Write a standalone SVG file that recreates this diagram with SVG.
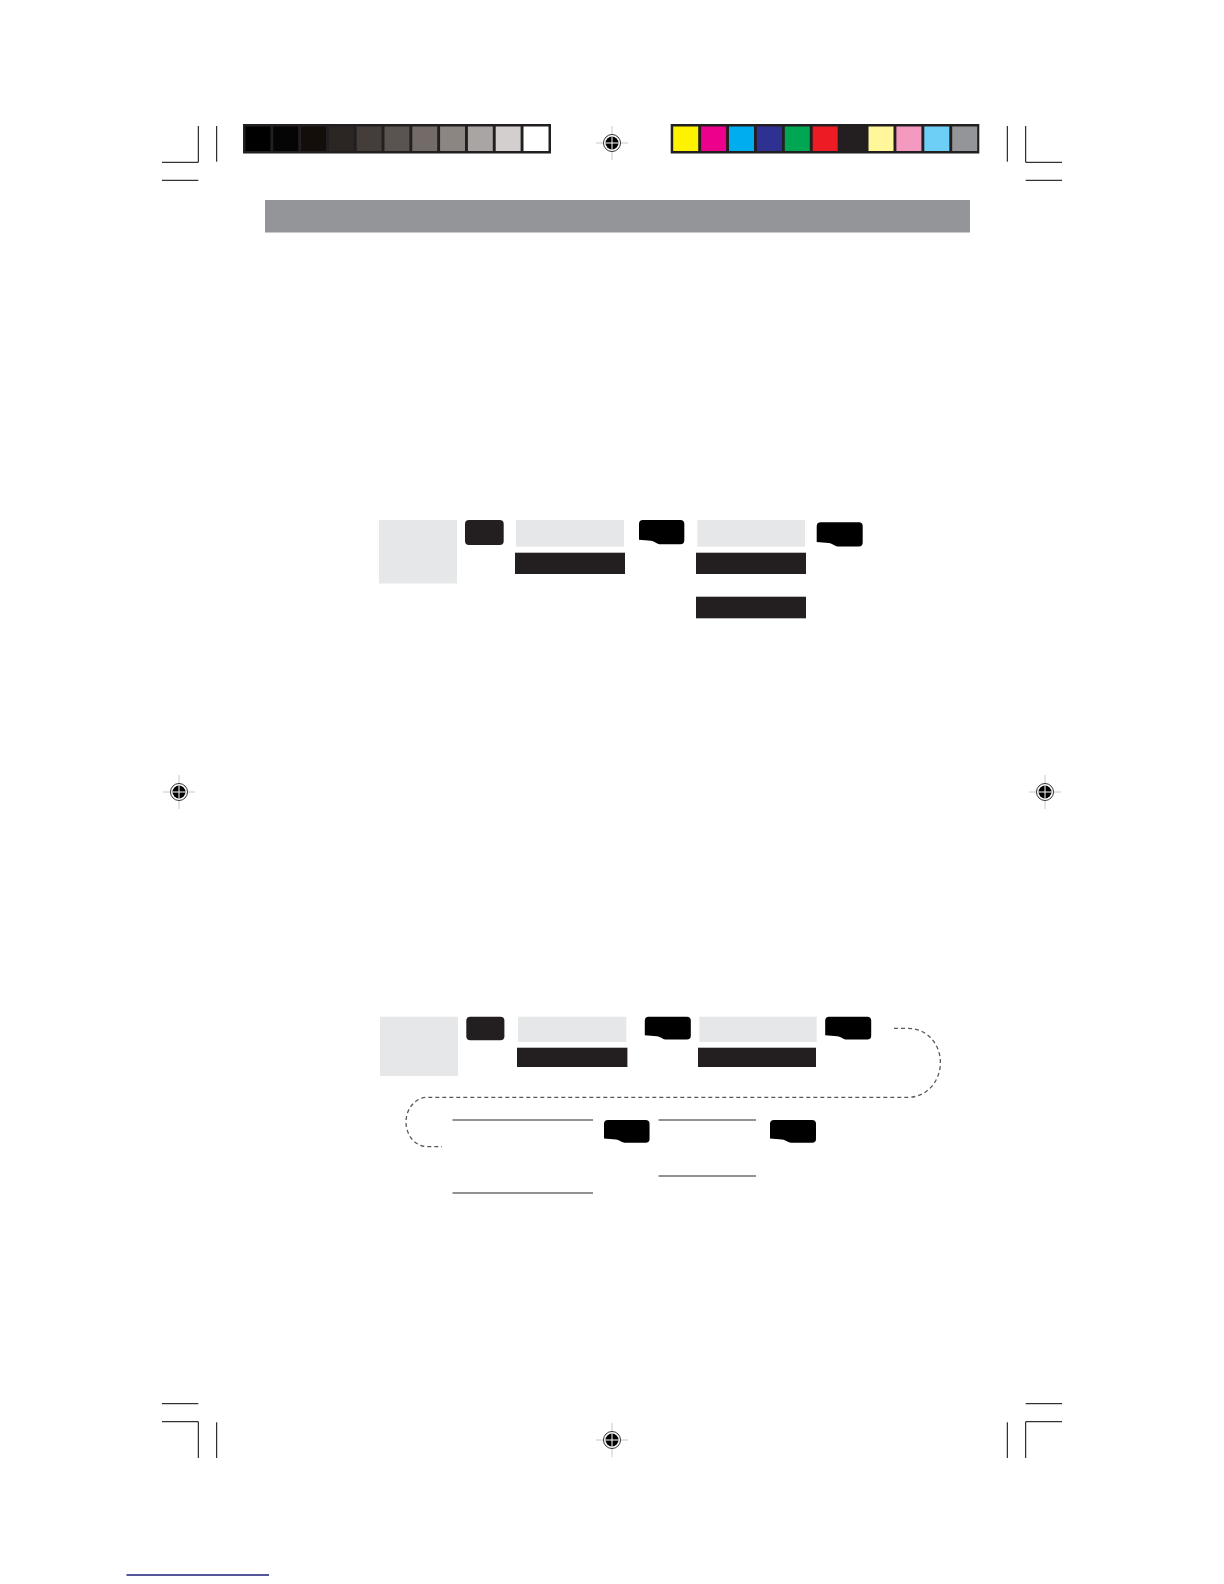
<svg xmlns="http://www.w3.org/2000/svg" xmlns:xlink="http://www.w3.org/1999/xlink" width="1224" height="1584" viewBox="0 0 1224 1584">
<style>
.crop{stroke:#000;stroke-width:1;fill:none}
.lg{fill:#e6e7e8}
.dk{fill:#231f20}
.tab{fill:#000}
.ul{stroke:#6d6e71;stroke-width:1.5}
.frame{fill:#231f20}
</style>
<defs>
<path id="tabshape" d="M4 0 H42 Q46 0 46 4 V20 Q46 24 42 24 H22 C18 24 16 21 12 20.5 L0 19.5 V4 Q0 0 4 0 Z"/>
<g id="reg">
<line x1="-16" y1="0" x2="16" y2="0" stroke="#c8c8c8" stroke-width="1"/>
<line x1="0" y1="-17" x2="0" y2="17" stroke="#c8c8c8" stroke-width="1"/>
<circle r="8.5" fill="#fff" stroke="#000" stroke-width="0.8"/>
<circle r="6.5" fill="#000"/>
<line x1="-6.5" y1="0" x2="6.5" y2="0" stroke="#fff" stroke-width="1"/>
<line x1="0" y1="-6.5" x2="0" y2="6.5" stroke="#fff" stroke-width="1"/>
</g>
</defs>

<g id="crop-marks">
<path class="crop" d="M198.3 126 V162.3 H162 M216.7 126 V161.7 M162 180.3 H198.3"/>
<path class="crop" d="M1025.7 126 V162.3 H1062 M1007.3 126 V161.7 M1062 180.3 H1025.7"/>
<path class="crop" d="M198.3 1458 V1421.7 H162 M216.7 1458 V1422.3 M162 1403.7 H198.3"/>
<path class="crop" d="M1025.7 1458 V1421.7 H1062 M1007.3 1458 V1422.3 M1062 1403.7 H1025.7"/>
</g>

<g id="registration-marks">
<use href="#reg" x="612" y="143"/>
<use href="#reg" x="179" y="792"/>
<use href="#reg" x="1045" y="792"/>
<use href="#reg" x="612" y="1440"/>
</g>

<g id="grayscale-bar">
<rect class="frame" x="243" y="124" width="308" height="29.5"/>
<rect x="245.5" y="126.5" width="24.9" height="24.5" fill="#000000"/>
<rect x="273.3" y="126.5" width="24.9" height="24.5" fill="#050505"/>
<rect x="301.1" y="126.5" width="24.9" height="24.5" fill="#140e0b"/>
<rect x="328.9" y="126.5" width="24.9" height="24.5" fill="#2b2523"/>
<rect x="356.7" y="126.5" width="24.9" height="24.5" fill="#453d3a"/>
<rect x="384.5" y="126.5" width="24.9" height="24.5" fill="#5b534f"/>
<rect x="412.3" y="126.5" width="24.9" height="24.5" fill="#736b68"/>
<rect x="440.1" y="126.5" width="24.9" height="24.5" fill="#8c8683"/>
<rect x="467.9" y="126.5" width="24.9" height="24.5" fill="#a9a5a3"/>
<rect x="495.7" y="126.5" width="24.9" height="24.5" fill="#d2cfce"/>
<rect x="523.5" y="126.5" width="25" height="24.5" fill="#ffffff"/>
</g>

<g id="color-bar">
<rect class="frame" x="670.7" y="124" width="308.6" height="29.5"/>
<rect x="673.2" y="126.5" width="25" height="24.5" fill="#fff200"/>
<rect x="701.1" y="126.5" width="25" height="24.5" fill="#ec008c"/>
<rect x="729" y="126.5" width="25" height="24.5" fill="#00aeef"/>
<rect x="756.9" y="126.5" width="25" height="24.5" fill="#2e3192"/>
<rect x="784.8" y="126.5" width="25" height="24.5" fill="#00a651"/>
<rect x="812.7" y="126.5" width="25" height="24.5" fill="#ed1c24"/>
<rect x="840.6" y="126.5" width="25" height="24.5" fill="#231f20"/>
<rect x="868.5" y="126.5" width="25" height="24.5" fill="#fff799"/>
<rect x="896.4" y="126.5" width="25" height="24.5" fill="#f49ac1"/>
<rect x="924.3" y="126.5" width="25" height="24.5" fill="#6dcff6"/>
<rect x="952.2" y="126.5" width="25" height="24.5" fill="#939598"/>
</g>

<g id="header-bar">
<rect x="265" y="200" width="705" height="32.5" fill="#939598"/>
</g>

<g id="diagram1">
<g id="d1-square"><rect class="lg" x="379" y="520" width="78" height="63.5"/></g>
<g id="d1-button"><rect class="dk" x="465" y="520" width="38.7" height="25" rx="4"/></g>
<g id="d1-light1"><rect class="lg" x="516" y="520" width="108" height="26.7"/></g>
<g id="d1-dark1"><rect class="dk" x="515" y="552.7" width="110" height="21.3"/></g>
<g id="d1-tab1"><use href="#tabshape" class="tab" transform="translate(639 520) scale(0.985 1.01)"/></g>
<g id="d1-light2"><rect class="lg" x="697.3" y="520" width="107.7" height="26.7"/></g>
<g id="d1-dark2"><rect class="dk" x="696" y="552.7" width="110" height="21.3"/></g>
<g id="d1-dark3"><rect class="dk" x="696" y="596.7" width="110" height="21.6"/></g>
<g id="d1-tab2"><use href="#tabshape" class="tab" transform="translate(816.7 522.3) scale(1 1.01)"/></g>
</g>

<g id="diagram2">
<g id="d2-square"><rect class="lg" x="380" y="1016.7" width="78" height="59.3"/></g>
<g id="d2-button"><rect class="dk" x="466.3" y="1016.7" width="38.1" height="23.6" rx="4"/></g>
<g id="d2-light1"><rect class="lg" x="518.1" y="1016.7" width="108.2" height="25.3"/></g>
<g id="d2-dark1"><rect class="dk" x="517" y="1047.7" width="110.4" height="19.3"/></g>
<g id="d2-tab1"><use href="#tabshape" class="tab" transform="translate(644.8 1016.7) scale(1 0.95)"/></g>
<g id="d2-light2"><rect class="lg" x="699.3" y="1016.7" width="117.4" height="25.3"/></g>
<g id="d2-dark2"><rect class="dk" x="698" y="1047.7" width="118" height="19.3"/></g>
<g id="d2-tab2"><use href="#tabshape" class="tab" transform="translate(825.2 1016.7) scale(1 0.95)"/></g>
<g id="d2-line-a"><line class="ul" x1="452.5" y1="1120" x2="593" y2="1120"/></g>
<g id="d2-line-b"><line class="ul" x1="452.5" y1="1193" x2="593" y2="1193"/></g>
<g id="d2-tab3"><use href="#tabshape" class="tab" transform="translate(604 1120) scale(0.99 0.95)"/></g>
<g id="d2-line-c"><line class="ul" x1="658.5" y1="1120" x2="756" y2="1120"/></g>
<g id="d2-line-d"><line class="ul" x1="658.5" y1="1176" x2="756" y2="1176"/></g>
<g id="d2-tab4"><use href="#tabshape" class="tab" transform="translate(770 1120) scale(1 0.95)"/></g>
</g>

<g id="connectors">
<path d="M894 1028.3 H908 C928 1028.3 940.4 1045 940.4 1062.5 C940.4 1080 928 1097.3 908 1097.3 H428 C414 1097.3 406 1110 406 1122 C406 1134 414 1146.7 428 1146.7 H442" fill="none" stroke="#58595b" stroke-width="1.3" stroke-dasharray="4 3"/>
</g>

<g id="footer-line">
<line x1="126.5" y1="1575" x2="269" y2="1575" stroke="#1c1c7a" stroke-width="1.3"/>
</g>
</svg>
